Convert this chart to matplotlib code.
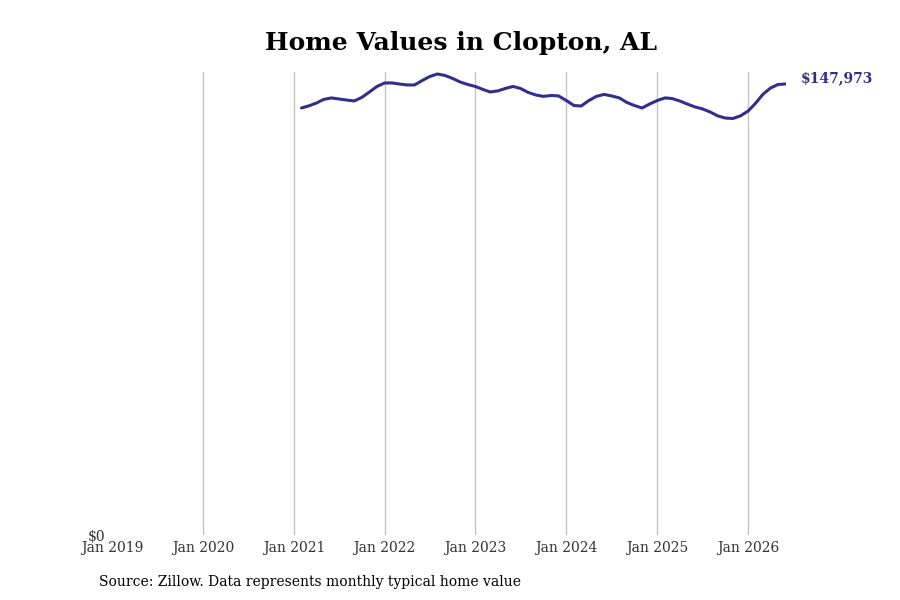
"""
Home values line chart for Clopton, AL (Zillow typical home value).
"""
import matplotlib

matplotlib.use("Agg")
import matplotlib.pyplot as plt
import pandas as pd

plt.rcParams["font.family"] = "DejaVu Serif"

TITLE = "Home Values in Clopton, AL"
SOURCE = "Source: Zillow. Data represents monthly typical home value"

# monthly values, Feb 2021 .. Jun 2026
dates = pd.date_range("2021-02-01", "2026-06-01", freq="MS")
values = [
    140100, 140750, 141700, 142900, 143400, 143050, 142700, 142400, 143550, 145350, 147150,
    148300, 148300, 147970, 147650, 147650, 149100, 150400, 151250, 150750, 149800, 148600, 147800,
    147150, 146150, 145350, 145700, 146500, 147150, 146500, 145200, 144350, 143900, 144200, 144050,
    142550, 140900, 140750, 142550, 143900, 144550, 144050, 143400, 141900, 140900, 140100, 141400,
    142550, 143400, 143200, 142400, 141400, 140450, 139800, 138800, 137500, 136800, 136650, 137500,
    139100, 141750, 144550, 146650, 147800, 147973,
]
tick_years = list(range(2019, 2027))
tick_labels = [f"Jan {y}" for y in tick_years]

LINE_COLOR = "#332d8c"


def main() -> None:
    fig = plt.figure(figsize=(9, 6), dpi=100)
    ax = fig.add_axes([0.1244, 0.1083, 0.7486, 0.7717])

    ax.plot(dates, values, color=LINE_COLOR, linewidth=2.2, solid_capstyle="round")

    ax.set_xlim(pd.Timestamp("2019-01-01"), dates[-1])
    ax.set_ylim(0, 151900)

    ticks = [pd.Timestamp(f"{y}-01-01") for y in tick_years]
    ax.set_xticks(ticks)
    ax.set_xticklabels(tick_labels, fontsize=10, color="#333333")
    ax.set_yticks([0])
    ax.set_yticklabels(["$0"], fontsize=10, color="#333333")
    ax.tick_params(axis="both", length=0)
    ax.tick_params(axis="x", pad=4)
    ax.tick_params(axis="y", pad=5)

    # vertical guides, none on the left edge
    for t in ticks[1:]:
        ax.axvline(t, color="#c0c0c0", linewidth=0.9, zorder=0)
    for spine in ax.spines.values():
        spine.set_visible(False)

    ax.annotate(
        f"${values[-1]:,}",
        xy=(dates[-1], values[-1]),
        xytext=(10.5, 4),
        textcoords="offset points",
        fontsize=10,
        fontweight="bold",
        color=LINE_COLOR,
        va="center",
        ha="left",
        annotation_clip=False,
    )

    fig.text(0.512, 0.928, TITLE, ha="center", va="center", fontsize=18, fontweight="bold")
    fig.text(0.11, 0.03, SOURCE, ha="left", va="center", fontsize=10)

    fig.savefig("out.png", dpi=100)
    plt.close(fig)


if __name__ == "__main__":
    main()
